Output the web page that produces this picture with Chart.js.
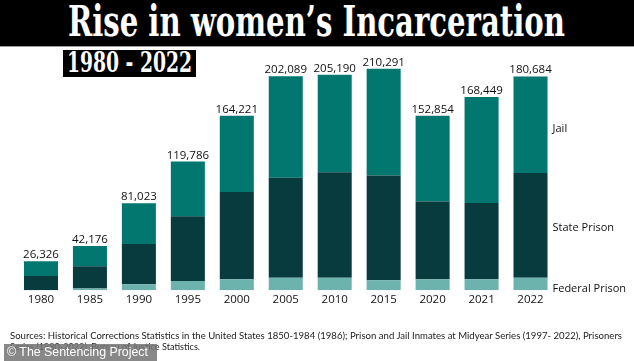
<!DOCTYPE html>
<html><head><meta charset="utf-8">
<script src="https://cdn.jsdelivr.net/npm/chart.js@4.4.1/dist/chart.umd.min.js"></script>
<style>
html,body{margin:0;padding:0;background:#fff;}
body{width:634px;height:361px;overflow:hidden;position:relative;}
#band{position:absolute;left:0;top:0;width:634px;height:46px;background:#000;border-bottom:1px solid #9a9a9a;}
.fit{position:absolute;white-space:nowrap;transform-origin:0 0;}
#title{left:68px;top:1px;color:#fff;font-family:"DejaVu Serif Condensed","DejaVu Serif",serif;font-weight:bold;font-size:42px;line-height:42px;}
#subbox{position:absolute;left:63px;top:50px;width:133px;height:27px;background:#000;}
#sub{left:67px;top:49px;color:#fff;font-family:"DejaVu Serif Condensed","DejaVu Serif",serif;font-weight:bold;font-size:27px;line-height:27px;}
#chartwrap{position:absolute;left:0;top:0;width:634px;height:361px;}
#src1{left:10px;top:330px;color:#222;font-family:Lato,"Open Sans",sans-serif;font-size:10px;line-height:11px;}
#src2{left:10px;top:341px;color:#222;font-family:Lato,"Open Sans",sans-serif;font-size:10px;line-height:11px;}
#wm{position:absolute;left:4px;top:344px;width:153px;height:17px;background:rgba(115,115,115,0.85);}
#wmt{left:7px;top:344px;color:#fff;font-family:"Liberation Sans",Arial,sans-serif;font-size:12.5px;line-height:17px;}
</style>
</head>
<body>
<div id="band"></div>
<div id="title" class="fit" data-w="497">Rise in women’s Incarceration</div>
<div id="subbox"></div>
<div id="sub" class="fit" data-w="125">1980 - 2022</div>
<div id="chartwrap"><canvas id="c" width="634" height="361"></canvas></div>
<div id="src1" class="fit" data-w="612">Sources: Historical Corrections Statistics in the United States 1850-1984 (1986); Prison and Jail Inmates at Midyear Series (1997- 2022), Prisoners</div>
<div id="src2" class="fit" data-w="190">Series (1980-2022), Bureau of Justice Statistics.</div>
<div id="wm"></div>
<div id="wmt" class="fit" data-w="141">© The Sentencing Project</div>
<script>
// ---- data ----
const years   = ['1980','1985','1990','1995','2000','2005','2010','2015','2020','2021','2022'];
const totals  = [26326, 42176, 81023, 119786, 164221, 202089, 205190, 210291, 152854, 168449, 180684];
const federal = [0,     1600,  5500,  8700,  10200, 11700, 11700, 9300,  10200, 10200, 11700];
const state   = [13300, 21000, 37900, 61000, 82300, 94100, 99300, 98700, 73400, 71900, 98700];
const jail    = [13900, 19100, 38600, 51400, 71900, 95600, 91900, 100500, 80800, 99900, 90900];
const seriesNames = ['Federal Prison','State Prison','Jail'];
const colors = ['#6cb2ad','#073b3e','#01776f'];

// fit text widths
document.querySelectorAll('.fit').forEach(el=>{
  const w = el.getBoundingClientRect().width;
  const t = +el.dataset.w;
  el.style.transform = 'scaleX(' + (t/w) + ')';
});

const labelPlugin = {
  id:'labels',
  afterDatasetsDraw(chart){
    const ctx = chart.ctx;
    ctx.save();
    const top = chart.getDatasetMeta(2);
    ctx.fillStyle = '#111';
    ctx.font = '11.5px "Open Sans", sans-serif';
    ctx.textAlign = 'center';
    ctx.textBaseline = 'alphabetic';
    top.data.forEach((el,i)=>{
      ctx.fillText(totals[i].toLocaleString('en-US'), el.x, el.y - 3);
    });
    ctx.textAlign = 'left';
    ctx.textBaseline = 'middle';
    ctx.font = '11px "Open Sans", sans-serif';
    const n = years.length - 1;
    const offs = [5, 2, 4];
    for (let d=0; d<3; d++){
      const el = chart.getDatasetMeta(d).data[n];
      const y = (el.y + el.base)/2 + offs[d];
      ctx.fillText(seriesNames[d], el.x + el.width/2 + 5, y);
    }
    ctx.restore();
  }
};

new Chart(document.getElementById('c'), {
  type:'bar',
  data:{
    labels: years,
    datasets:[
      {label:seriesNames[0], data:federal, backgroundColor:colors[0]},
      {label:seriesNames[1], data:state,   backgroundColor:colors[1]},
      {label:seriesNames[2], data:jail,    backgroundColor:colors[2]}
    ]
  },
  options:{
    responsive:false,
    animation:false,
    barPercentage:0.695,
    categoryPercentage:1,
    layout:{padding:{left:16.5,right:79,top:46,bottom:51}},
    plugins:{legend:{display:false},tooltip:{enabled:false},title:{display:false}},
    scales:{
      x:{stacked:true,grid:{display:false,drawTicks:false},border:{display:false},
         ticks:{padding:3,color:'#111',font:{family:'"Open Sans", sans-serif',size:11.5}}},
      y:{stacked:true,display:false,min:0,max:230000}
    }
  },
  plugins:[labelPlugin]
});
</script>
</body></html>
